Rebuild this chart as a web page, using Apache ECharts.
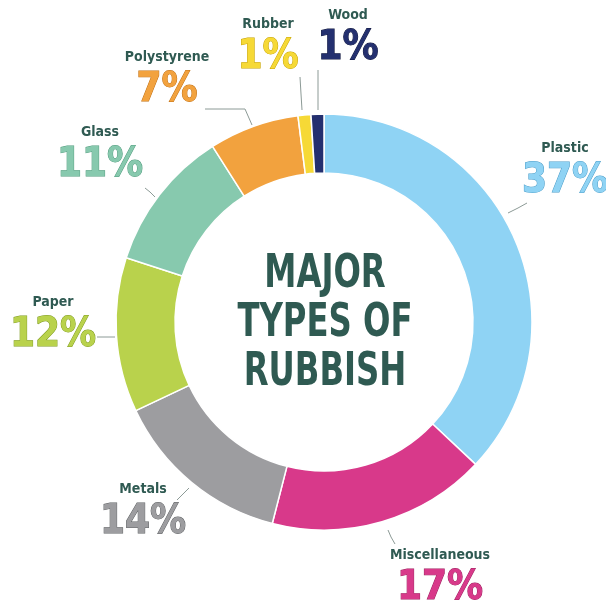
<!DOCTYPE html>
<html>
<head>
<meta charset="utf-8">
<script src="https://cdn.jsdelivr.net/npm/echarts@6/dist/echarts.min.js"></script>
<style>
  html, body { margin: 0; padding: 0; background: #fff; }
  #pie1 { width: 606px; height: 613px; }
</style>
</head>
<body>
<div id="pie1"></div>
<script>
// data (percent of rubbish)
var categories = ['Plastic', 'Miscellaneous', 'Metals', 'Paper', 'Glass', 'Polystyrene', 'Rubber', 'Wood'];
var shares = [37, 17, 14, 12, 11, 7, 1, 1];

// styles
var sliceColors = ['#8fd3f4', '#d8398a', '#9d9da0', '#b9d24c', '#87c9ae', '#f2a23e', '#f6d936', '#24306f'];
var darkColors = ['#4a9cc8', '#9c1f5d', '#5f6264', '#7e9a1e', '#4e9a7b', '#c06f12', '#c6a200', '#11183d'];

// where each label block sits and its guide line
var labelSpots = [
    { x: 565, y: 171, line: [[508, 213], [518, 208], [527, 203]] },
    { x: 440, y: 578, line: [[388, 530], [391, 537], [395, 544]] },
    { x: 143, y: 512, line: [[189, 488], [183, 494], [177, 500]] },
    { x: 53, y: 325, line: [[115, 337], [106, 337], [97, 337]] },
    { x: 100, y: 155, line: [[155, 197], [150, 192], [145, 188]] },
    { x: 167, y: 80, line: [[252, 125], [245, 109], [205, 109]] },
    { x: 268, y: 47, line: [[302, 110], [301, 94], [300, 77]] },
    { x: 348, y: 38, line: [[318, 110], [318, 90], [318, 70]] }
];

var narrow = '"DejaVu Sans Condensed", "DejaVu Sans", sans-serif';

var myChart = echarts.init(document.getElementById('pie1'));

var pieData = categories.map(function (name, i) {
    return {
        name: name,
        value: shares[i],
        itemStyle: { color: sliceColors[i] },
        label: {
            rich: {
                p: {
                    color: sliceColors[i],
                    textBorderColor: darkColors[i],
                    textBorderWidth: 1,
                    textShadowColor: darkColors[i],
                    textShadowOffsetX: 2,
                    textShadowOffsetY: 1,
                    textShadowBlur: 0
                }
            }
        }
    };
});

var option = {
    backgroundColor: '#fff',
    graphic: [{
        type: 'text',
        x: 325,
        y: 324,
        scaleX: 0.78,
        style: {
            text: 'MAJOR\nTYPES OF\nRUBBISH',
            align: 'center',
            verticalAlign: 'middle',
            font: 'bold 46px ' + narrow,
            lineHeight: 49,
            fill: '#2f5a52'
        }
    }],
    series: [{
        type: 'pie',
        center: [324, 322],
        radius: [149, 208],
        startAngle: 90,
        clockwise: true,
        avoidLabelOverlap: false,
        silent: true,
        itemStyle: { borderColor: '#fff', borderWidth: 1.5 },
        label: {
            show: true,
            position: 'outside',
            formatter: '{n|{b}}\n{p|{c}%}',
            rich: {
                n: {
                    fontFamily: narrow,
                    fontWeight: 'bold',
                    fontSize: 14,
                    lineHeight: 22,
                    color: '#2f5a52',
                    align: 'center'
                },
                p: {
                    fontFamily: narrow,
                    fontWeight: 'bold',
                    fontSize: 40,
                    lineHeight: 46,
                    align: 'center'
                }
            }
        },
        labelLine: {
            show: true,
            lineStyle: { color: '#8c9a96', width: 1 }
        },
        labelLayout: function (params) {
            var s = labelSpots[params.dataIndex];
            return {
                x: s.x,
                y: s.y,
                align: 'center',
                verticalAlign: 'middle',
                labelLinePoints: s.line
            };
        },
        data: pieData
    }]
};

myChart.setOption(option);
</script>
</body>
</html>
